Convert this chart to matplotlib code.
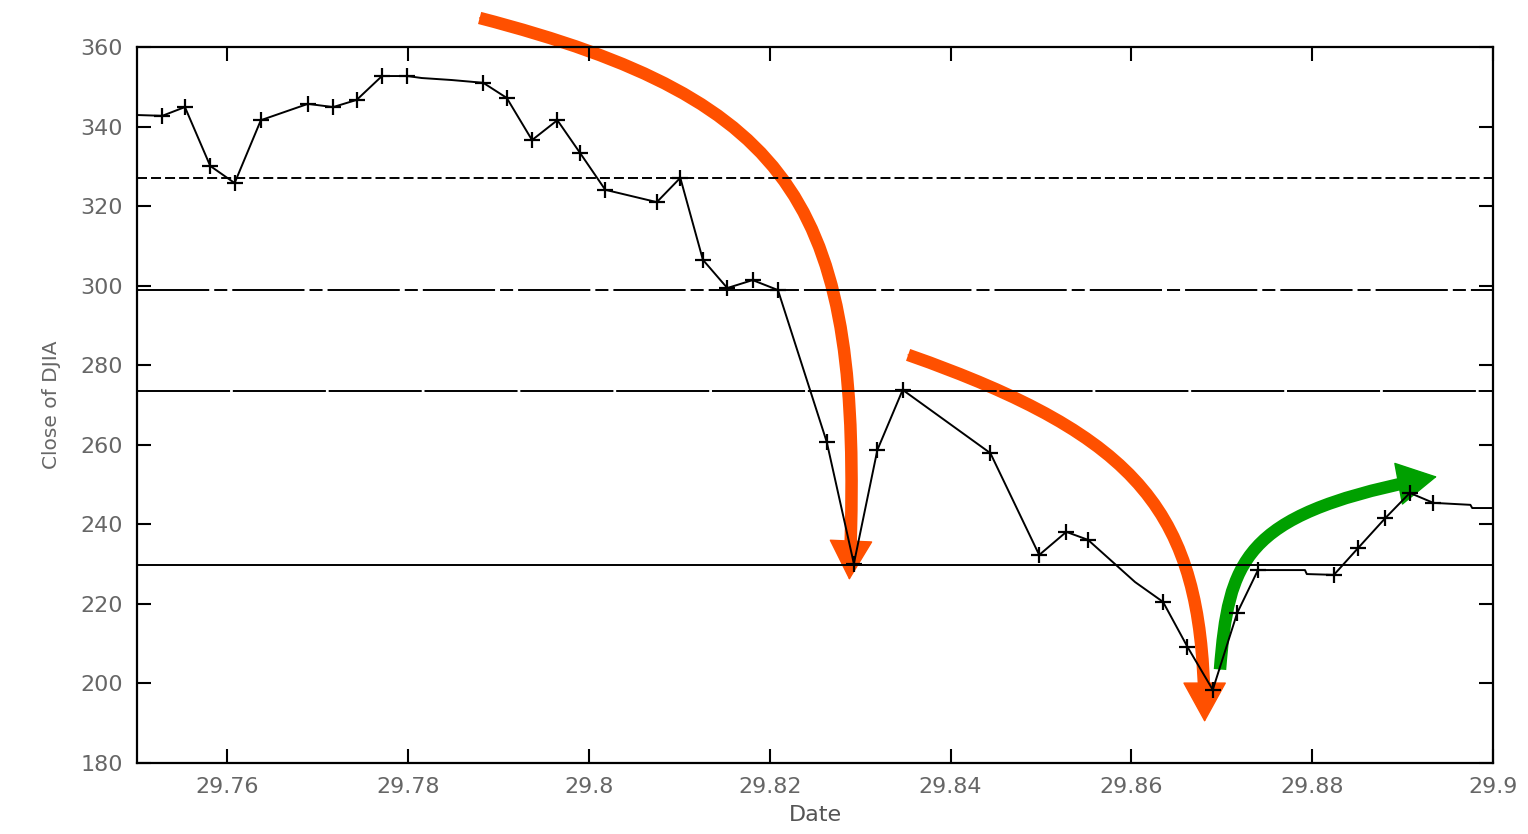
import numpy as np
import matplotlib
matplotlib.use('Agg')
import matplotlib.pyplot as plt
from matplotlib.path import Path
from matplotlib.patches import FancyArrowPatch, ArrowStyle

plt.rcParams['lines.scale_dashes'] = False
plt.rcParams['font.family'] = ['DejaVu Sans']

# DJIA close, late 1929 (date as fractional year)
date = [29.7500, 29.7528, 29.7553, 29.7581, 29.7608, 29.7637, 29.7689, 29.7717,
        29.7743, 29.7771, 29.7799, 29.7815, 29.7848, 29.7883, 29.7909, 29.7937,
        29.7965, 29.7990, 29.8018, 29.8075, 29.8101, 29.8126, 29.8153, 29.8181,
        29.8209, 29.8263, 29.8293, 29.8319, 29.8347, 29.8444, 29.8498, 29.8528,
        29.8552, 29.8604, 29.8635, 29.8662, 29.8690, 29.8717, 29.8740, 29.8792,
        29.8794, 29.8824, 29.8851, 29.8881, 29.8908, 29.8934, 29.8975, 29.8977,
        29.9000]
close = [342.9, 342.7, 344.9, 330.1, 325.8, 341.6, 345.7, 344.9,
         346.7, 352.7, 352.7, 352.2, 351.7, 351.0, 347.2, 336.6,
         341.6, 333.4, 324.1, 321.0, 327.1, 306.5, 299.4, 301.4,
         298.9, 260.7, 230.1, 258.7, 273.8, 257.9, 232.3, 238.1,
         236.1, 225.5, 220.5, 209.2, 198.4, 217.7, 228.5, 228.5,
         227.5, 227.3, 234.1, 241.6, 247.9, 245.4, 244.9, 244.1,
         244.1]
marked = [0, 1, 1, 1, 1, 1, 1, 1,
          1, 1, 1, 0, 0, 1, 1, 1,
          1, 1, 1, 1, 1, 1, 1, 1,
          1, 1, 1, 1, 1, 1, 1, 1,
          1, 0, 1, 1, 1, 1, 1, 0,
          0, 1, 1, 1, 1, 1, 0, 0,
          0]

# reference levels
levels = [327.1, 298.9, 273.6, 229.9]
level_dashes = [(7.2, 2.9), (52, 3.6, 9.4, 3.6), (67, 2), None]

# annotation arrows: cubic bezier control points (date, close)
arrow_red1 = [(29.7879, 367.3), (29.8240, 346.0), (29.8305, 318.0), (29.8288, 226.0)]
arrow_red2 = [(29.8353, 282.6), (29.8621, 261.2), (29.8681, 241.1), (29.8681, 190.3)]
arrow_green = [(29.8698, 203.5), (29.8708, 232.0), (29.8725, 243.0), (29.8938, 252.0)]


def bez(P, t):
    t = np.asarray(t)[:, None]
    return ((1-t)**3*P[0] + 3*(1-t)**2*t*P[1] + 3*(1-t)*t**2*P[2] + t**3*P[3])


def split(P, t):
    # de Casteljau, returns control points of the [0, t] part
    a = P[0] + t*(P[1]-P[0]); b = P[1] + t*(P[2]-P[1]); c = P[2] + t*(P[3]-P[2])
    d = a + t*(b-a); e = b + t*(c-b)
    return np.array([P[0], a, d, d + t*(e-d)])


fig = plt.figure(figsize=(15.28, 8.34), dpi=100)
ax = fig.add_axes([137/1528, 1 - 763/834, (1493-137)/1528, (763-47)/834])

for lv, ds in zip(levels, level_dashes):
    if ds is None:
        ax.axhline(lv, color='black', lw=1.4)
    else:
        ax.axhline(lv, color='black', lw=1.4, dashes=ds)

date = np.array(date)
close = np.array(close)
m = np.array(marked, dtype=bool)
ax.plot(date, close, color='black', lw=1.4)
ax.plot(date[m], close[m], ls='none', marker='+', ms=11, mew=1.6, color='black')

ax.set_xlim(29.75, 29.9)
ax.set_ylim(180, 360)
ax.set_xticks([29.76, 29.78, 29.8, 29.82, 29.84, 29.86, 29.88, 29.9])
ax.set_xticklabels(['29.76', '29.78', '29.8', '29.82', '29.84', '29.86', '29.88', '29.9'])
ax.set_yticks(np.arange(180, 361, 20))
ax.tick_params(direction='in', top=True, right=True, length=10, width=1.5,
               labelsize=16, labelcolor='#666666', pad=10)
for s in ax.spines.values():
    s.set_linewidth(1.6)
ax.set_xlabel('Date', fontsize=16, color='#555555', labelpad=6)
ax.set_ylabel('Close of DJIA', fontsize=14.5, color='#666666', labelpad=14)

codes = [Path.MOVETO, Path.CURVE4, Path.CURVE4, Path.CURVE4]
for pts, col in [(arrow_red1, '#FF5000'), (arrow_red2, '#FF5000'), (arrow_green, '#00A000')]:
    P = np.array(pts)
    # cut the shaft ~22 px before the tip so it ends inside the head
    ts = np.linspace(0, 1, 400)
    disp = ax.transData.transform(bez(P, ts))
    seg = np.hypot(*np.diff(disp, axis=0).T)
    remain = np.concatenate([np.cumsum(seg[::-1])[::-1], [0]])
    tcut = ts[np.argmax(remain < 22)]
    shaft = FancyArrowPatch(path=Path(split(P, tcut), codes), arrowstyle='-', color=col, lw=9,
                            clip_on=False, capstyle='butt')
    ax.add_patch(shaft)
    head = FancyArrowPatch(path=Path(P, codes), arrowstyle=ArrowStyle('-|>', head_length=1.0, head_width=0.55),
                           mutation_scale=27, color=col, lw=1, clip_on=False)
    ax.add_patch(head)

fig.savefig('out.png', dpi=100)
